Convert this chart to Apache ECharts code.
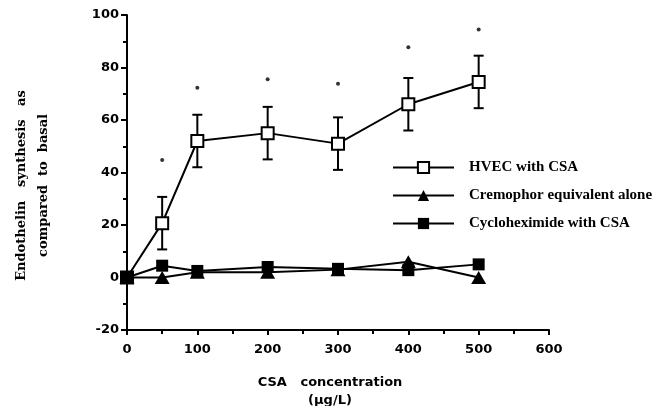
<!DOCTYPE html>
<html>
<head>
<meta charset="utf-8">
<script src="https://cdn.jsdelivr.net/npm/echarts@6/dist/echarts.min.js"></script>
<style>html,body{margin:0;padding:0;background:#fff}#c{width:664px;height:406px}</style>
</head>
<body>
<div id="c"></div>
<script>
var concentrations = [0, 50, 100, 200, 300, 400, 500];
var hvecMean = [0, 20.7, 52, 55, 51, 66, 74.5];
var hvecErr = [0, 10, 10, 10, 10, 10, 10];
var cremophor = [0, 0, 2, 2, 3, 6, 0];
var cycloheximide = [0, 4.5, 2.5, 4, 3.3, 2.8, 5];
var starX = [50, 100, 200, 300, 400, 500];
var starY = [44.8, 72.3, 75.5, 73.8, 87.7, 94.5];
var xTicks = [0, 100, 200, 300, 400, 500, 600];
var yTicks = [-20, 0, 20, 40, 60, 80, 100];

function pairs(xs, ys) { return xs.map(function (x, i) { return [x, ys[i]]; }); }

var chart = echarts.init(document.getElementById('c'));
var axisFont = { fontFamily: 'DejaVu Sans', fontWeight: 'bold', fontSize: 13, color: '#000' };
chart.setOption({
  animation: false,
  backgroundColor: '#fff',
  grid: { left: 127, right: 115, top: 15, bottom: 76, containLabel: false, outerBoundsMode: 'none' },
  xAxis: {
    type: 'value', min: xTicks[0], max: xTicks[xTicks.length - 1], interval: 100,
    axisLine: { onZero: false, lineStyle: { color: '#000', width: 2 } },
    axisTick: { show: true, length: 5, lineStyle: { color: '#000', width: 2 } },
    minorTick: { show: true, splitNumber: 2, length: 4, lineStyle: { color: '#000', width: 2 } },
    splitLine: { show: false },
    axisLabel: Object.assign({ margin: 13 }, axisFont),
    name: 'CSA   concentration\n(µg/L)', nameLocation: 'middle', nameGap: 44,
    nameTextStyle: { fontFamily: 'DejaVu Sans', fontWeight: 'bold', fontSize: 13, color: '#000', lineHeight: 18, padding: [0, 16, 0, 0] }
  },
  yAxis: {
    type: 'value', min: yTicks[0], max: yTicks[yTicks.length - 1], interval: 20,
    axisLine: { onZero: false, lineStyle: { color: '#000', width: 2 } },
    axisTick: { show: true, length: 6, lineStyle: { color: '#000', width: 2 } },
    minorTick: { show: true, splitNumber: 2, length: 4, lineStyle: { color: '#000', width: 2 } },
    splitLine: { show: false },
    axisLabel: Object.assign({ margin: 8 }, axisFont),
    name: 'Endothelin   synthesis   as\ncompared  to  basal', nameLocation: 'middle', nameGap: 72, nameRotate: 90,
    nameTextStyle: { fontFamily: 'DejaVu Serif', fontWeight: 'bold', fontSize: 13, color: '#000', lineHeight: 22, padding: [0, 26, 0, 0] }
  },
  legend: {
    orient: 'vertical', left: 387, top: 155, itemWidth: 61, itemHeight: 14, itemGap: 13,
    textStyle: { fontFamily: 'Liberation Serif', fontWeight: 'bold', fontSize: 15, color: '#000', padding: [0, 0, 0, 10] },
    data: ['HVEC with CSA', 'Cremophor equivalent alone', 'Cycloheximide with CSA']
  },
  series: [
    {
      name: 'HVEC with CSA', type: 'line', data: pairs(concentrations, hvecMean),
      symbol: 'rect', symbolSize: 12, z: 2,
      lineStyle: { color: '#000', width: 2 },
      itemStyle: { color: '#fff', borderColor: '#000', borderWidth: 2 }
    },
    {
      name: 'Cremophor equivalent alone', type: 'line', data: pairs(concentrations, cremophor),
      symbol: 'triangle', symbolSize: [15, 13], z: 4,
      lineStyle: { color: '#000', width: 2 },
      itemStyle: { color: '#000' }
    },
    {
      name: 'Cycloheximide with CSA', type: 'line', data: pairs(concentrations, cycloheximide),
      symbol: 'rect', symbolSize: 12, z: 4,
      lineStyle: { color: '#000', width: 2 },
      itemStyle: { color: '#000' }
    },
    {
      type: 'custom', z: 1,
      data: concentrations.map(function (x, i) { return [x, hvecMean[i] - hvecErr[i], hvecMean[i] + hvecErr[i]]; }).filter(function (d, i) { return hvecErr[i] > 0; }),
      renderItem: function (params, api) {
        var lo = api.coord([api.value(0), api.value(1)]);
        var hi = api.coord([api.value(0), api.value(2)]);
        var w = 5;
        var st = { stroke: '#000', lineWidth: 2 };
        return { type: 'group', children: [
          { type: 'line', shape: { x1: hi[0], y1: hi[1], x2: lo[0], y2: lo[1] }, style: st },
          { type: 'line', shape: { x1: hi[0] - w, y1: hi[1], x2: hi[0] + w, y2: hi[1] }, style: st },
          { type: 'line', shape: { x1: lo[0] - w, y1: lo[1], x2: lo[0] + w, y2: lo[1] }, style: st }
        ] };
      }
    },
    {
      type: 'scatter', data: pairs(starX, starY), symbol: 'circle', symbolSize: 4,
      itemStyle: { color: '#000' }, z: 3
    }
  ]
});
</script>
</body>
</html>
